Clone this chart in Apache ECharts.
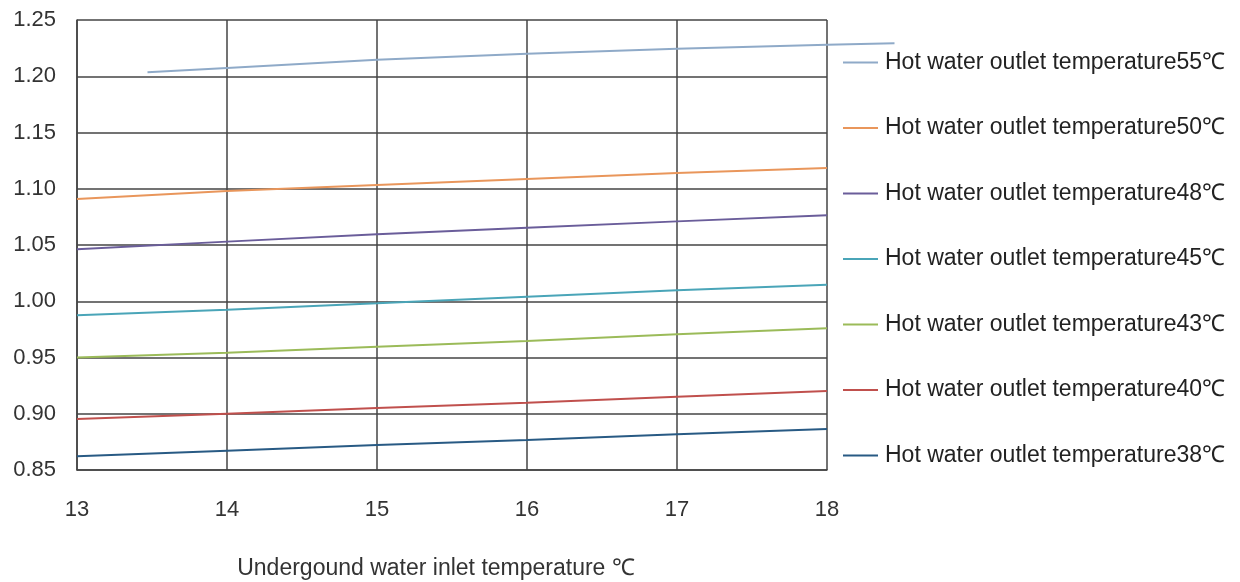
<!DOCTYPE html>
<html>
<head>
<meta charset="utf-8">
<script src="https://cdn.jsdelivr.net/npm/echarts@6/dist/echarts.min.js"></script>
<style>
  html, body { margin: 0; padding: 0; background: #fff; }
  #main { width: 1240px; height: 582px; }
</style>
</head>
<body>
<div id="main"></div>
<script>
// inlet water temperature (x) values
var inletTemps = [13, 14, 15, 16, 17, 18];
// the 55℃ curve starts later and runs past the last tick
var inletTemps55 = [13.47, 14, 15, 16, 17, 18, 18.45];

// series names and readings
var seriesNames = [
    'Hot water outlet temperature55℃',
    'Hot water outlet temperature50℃',
    'Hot water outlet temperature48℃',
    'Hot water outlet temperature45℃',
    'Hot water outlet temperature43℃',
    'Hot water outlet temperature40℃',
    'Hot water outlet temperature38℃'
];
var values55 = [1.2036, 1.2074, 1.2147, 1.2200, 1.2244, 1.2280, 1.2293];
var values50 = [1.0909, 1.0980, 1.1033, 1.1087, 1.1140, 1.1185];
var values48 = [1.0462, 1.0530, 1.0595, 1.0654, 1.0710, 1.0764];
var values45 = [0.9875, 0.9925, 0.9982, 1.0040, 1.0097, 1.0147];
var values43 = [0.9499, 0.9543, 0.9596, 0.9647, 0.9706, 0.9759];
var values40 = [0.8953, 0.9001, 0.9051, 0.9098, 0.9152, 0.9202];
var values38 = [0.8622, 0.8672, 0.8722, 0.8767, 0.8817, 0.8864];

var lineColors = ['#8faac8', '#e9965b', '#6a5d9a', '#4aa5b8', '#9bbb59', '#c0504d', '#285a84'];

function pairs(xs, ys) {
    return xs.map(function (x, i) { return [x, ys[i]]; });
}

var allData = [
    pairs(inletTemps55, values55),
    pairs(inletTemps, values50),
    pairs(inletTemps, values48),
    pairs(inletTemps, values45),
    pairs(inletTemps, values43),
    pairs(inletTemps, values40),
    pairs(inletTemps, values38)
];

var font = 'Liberation Sans, Arial, sans-serif';
var gridColor = '#444';

var chart = echarts.init(document.getElementById('main'));
var option = {
    animation: false,
    color: lineColors,
    grid: [
        { left: 77, right: 413, top: 20, bottom: 112, outerBoundsMode: 'none' },
        // same scale, just wider so the 55℃ line can run past 18
        { left: 77, right: 338, top: 20, bottom: 112, outerBoundsMode: 'none' }
    ],
    legend: {
        orient: 'vertical',
        left: 838,
        top: 46,
        icon: 'rect',
        itemWidth: 35,
        itemHeight: 2,
        itemGap: 42.5,
        textStyle: { fontFamily: font, fontSize: 23, color: '#222', lineHeight: 20, padding: [0, 0, 0, 2] },
        data: seriesNames
    },
    xAxis: [{
        type: 'value',
        gridIndex: 0,
        min: 13,
        max: 18,
        interval: 1,
        name: 'Undergound water inlet temperature ℃',
        nameLocation: 'middle',
        nameGap: 87,
        nameTextStyle: { fontFamily: font, fontSize: 23, color: '#333', padding: [0, 32, 0, 0] },
        axisLine: { show: true, lineStyle: { color: gridColor, width: 1.5 } },
        axisTick: { show: false },
        axisLabel: { margin: 29, fontFamily: font, fontSize: 22, color: '#333' },
        splitLine: { show: true, lineStyle: { color: gridColor, width: 1.5 } }
    }, {
        type: 'value',
        gridIndex: 1,
        min: 13,
        max: 18.5,
        show: false
    }],
    yAxis: [{
        type: 'value',
        gridIndex: 0,
        min: 0.85,
        max: 1.25,
        interval: 0.05,
        axisLine: { show: true, lineStyle: { color: gridColor, width: 1.5 } },
        axisTick: { show: false },
        axisLabel: {
            margin: 21,
            fontFamily: font,
            fontSize: 22,
            color: '#333',
            formatter: function (v) { return v.toFixed(2); }
        },
        splitLine: { show: true, lineStyle: { color: gridColor, width: 1.5 } }
    }, {
        type: 'value',
        gridIndex: 1,
        min: 0.85,
        max: 1.25,
        show: false
    }],
    series: seriesNames.map(function (name, i) {
        return {
            name: name,
            type: 'line',
            xAxisIndex: i === 0 ? 1 : 0,
            yAxisIndex: i === 0 ? 1 : 0,
            data: allData[i],
            symbol: 'none',
            lineStyle: { width: 2 }
        };
    })
};
chart.setOption(option);
</script>
</body>
</html>
